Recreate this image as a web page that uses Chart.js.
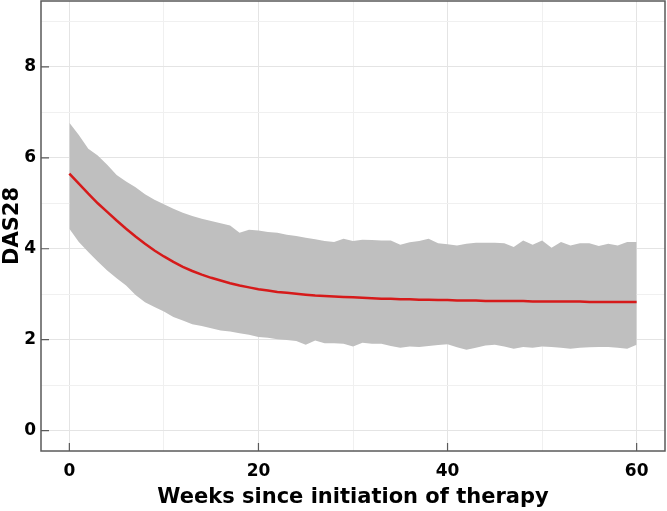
<!DOCTYPE html>
<html>
<head>
<meta charset="utf-8">
<script src="https://cdn.jsdelivr.net/npm/chart.js@4.4.0/dist/chart.umd.min.js"></script>
<style>
    html, body { margin: 0; padding: 0; background: #fff; }
    #wrap { width: 667px; height: 511px; }
</style>
</head>
<body>
<div id="wrap"><canvas id="myChart"></canvas></div>
<script>
// weeks since start of therapy
const weeks = [];
for (let w = 0; w <= 60; w++) weeks.push(w);

// mean DAS28 (red line)
const meanDas = [
    5.65, 5.43, 5.21, 5.00, 4.81, 4.62, 4.44, 4.27, 4.11, 3.96,
    3.83, 3.71, 3.60, 3.51, 3.43, 3.36, 3.30, 3.24, 3.19, 3.15,
    3.11, 3.08, 3.05, 3.03, 3.01, 2.99, 2.97, 2.96, 2.95, 2.94,
    2.93, 2.92, 2.91, 2.90, 2.90, 2.89, 2.89, 2.88, 2.88, 2.87,
    2.87, 2.86, 2.86, 2.86, 2.85, 2.85, 2.85, 2.85, 2.85, 2.84,
    2.84, 2.84, 2.84, 2.84, 2.84, 2.83, 2.83, 2.83, 2.83, 2.83,
    2.83
];

// upper edge of grey band
const upperDas = [
    6.77, 6.50, 6.20, 6.05, 5.85, 5.62, 5.48, 5.35, 5.20, 5.08,
    4.98, 4.88, 4.79, 4.72, 4.66, 4.61, 4.56, 4.51, 4.35, 4.42,
    4.40, 4.37, 4.35, 4.31, 4.28, 4.24, 4.21, 4.17, 4.15, 4.22,
    4.17, 4.20, 4.19, 4.18, 4.18, 4.09, 4.14, 4.17, 4.22, 4.12,
    4.10, 4.07, 4.11, 4.13, 4.13, 4.13, 4.12, 4.04, 4.18, 4.09,
    4.18, 4.02, 4.15, 4.07, 4.12, 4.12, 4.06, 4.11, 4.07, 4.15,
    4.15
];

// lower edge of grey band
const lowerDas = [
    4.44, 4.15, 3.93, 3.72, 3.52, 3.35, 3.19, 2.98, 2.82, 2.72,
    2.62, 2.50, 2.42, 2.34, 2.30, 2.25, 2.20, 2.18, 2.14, 2.11,
    2.06, 2.04, 2.01, 1.99, 1.97, 1.89, 1.98, 1.92, 1.92, 1.91,
    1.85, 1.93, 1.91, 1.91, 1.86, 1.82, 1.85, 1.84, 1.86, 1.88,
    1.90, 1.83, 1.78, 1.82, 1.87, 1.89, 1.85, 1.80, 1.84, 1.82,
    1.85, 1.84, 1.82, 1.80, 1.82, 1.83, 1.84, 1.84, 1.82, 1.80,
    1.89
];

const xTicksMajor = [0, 20, 40, 60];
const yTicksMajor = [0, 2, 4, 6, 8];

const fontFam = '"DejaVu Sans", sans-serif';

function toXY(ys) {
    return weeks.map((w, i) => ({ x: w, y: ys[i] }));
}

// 테두리와 안쪽 눈금을 그리는 플러그인
const frameTicks = {
    id: 'frameTicks',
    afterDatasetsDraw(chart) {
        const { ctx, chartArea: a, scales } = chart;
        ctx.save();
        ctx.strokeStyle = '#5a5a5a';
        ctx.lineWidth = 1.5;
        ctx.strokeRect(a.left, a.top, a.right - a.left, a.bottom - a.top);
        ctx.lineWidth = 1.2;
        ctx.beginPath();
        xTicksMajor.forEach(v => {
            const px = scales.x.getPixelForValue(v);
            ctx.moveTo(px, a.bottom);
            ctx.lineTo(px, a.bottom - 8);
        });
        yTicksMajor.forEach(v => {
            const py = scales.y.getPixelForValue(v);
            ctx.moveTo(a.left, py);
            ctx.lineTo(a.left + 8, py);
        });
        ctx.stroke();
        ctx.restore();
    }
};

const ctx = document.getElementById('myChart').getContext('2d');
const myChart = new Chart(ctx, {
    type: 'line',
    data: {
        datasets: [{
            label: 'upper',
            data: toXY(upperDas),
            borderWidth: 0,
            pointRadius: 0,
            backgroundColor: '#bfbfbf',
            fill: '+1',
            order: 2
        }, {
            label: 'lower',
            data: toXY(lowerDas),
            borderWidth: 0,
            pointRadius: 0,
            fill: false,
            order: 2
        }, {
            label: 'mean',
            data: toXY(meanDas),
            borderColor: '#d61a1a',
            borderWidth: 2.5,
            pointRadius: 0,
            fill: false,
            order: 0
        }]
    },
    options: {
        responsive: true,
        maintainAspectRatio: false,
        animation: false,
        layout: { padding: { top: 1, right: 2, left: 0, bottom: 0 } },
        plugins: {
            legend: { display: false },
            tooltip: { enabled: false },
            filler: { propagate: false }
        },
        scales: {
            x: {
                type: 'linear',
                min: -3,
                max: 63,
                afterFit: s => { s.height = 60; s.paddingLeft = 0; s.paddingRight = 0; },
                border: { display: false },
                grid: {
                    drawTicks: false,
                    color: c => (c.tick.value % 20 === 0 ? '#e4e4e4' : '#f0f0f0'),
                    lineWidth: 1
                },
                ticks: {
                    stepSize: 10,
                    includeBounds: false,
                    autoSkip: false,
                    maxRotation: 0,
                    padding: 10,
                    color: '#000',
                    font: { family: fontFam, size: 17, weight: 'bold' },
                    callback: v => (v % 20 === 0 ? v : '')
                },
                title: {
                    display: true,
                    text: 'Weeks since initiation of therapy',
                    color: '#000',
                    padding: { top: 2, bottom: 1 },
                    font: { family: fontFam, size: 21, weight: 'bold' }
                }
            },
            y: {
                type: 'linear',
                min: -0.45,
                max: 9.45,
                afterFit: s => { s.width = 41; s.paddingTop = 0; s.paddingBottom = 0; },
                border: { display: false },
                grid: {
                    drawTicks: false,
                    color: c => (c.tick.value % 2 === 0 ? '#e4e4e4' : '#f0f0f0'),
                    lineWidth: 1
                },
                ticks: {
                    stepSize: 1,
                    includeBounds: false,
                    autoSkip: false,
                    padding: 5,
                    color: '#000',
                    font: { family: fontFam, size: 17, weight: 'bold' },
                    callback: v => (v % 2 === 0 ? v : '')
                },
                title: {
                    display: true,
                    text: 'DAS28',
                    color: '#000',
                    padding: { top: 0, bottom: 0 },
                    font: { family: fontFam, size: 21, weight: 'bold' }
                }
            }
        }
    },
    plugins: [frameTicks]
});
</script>
</body>
</html>
